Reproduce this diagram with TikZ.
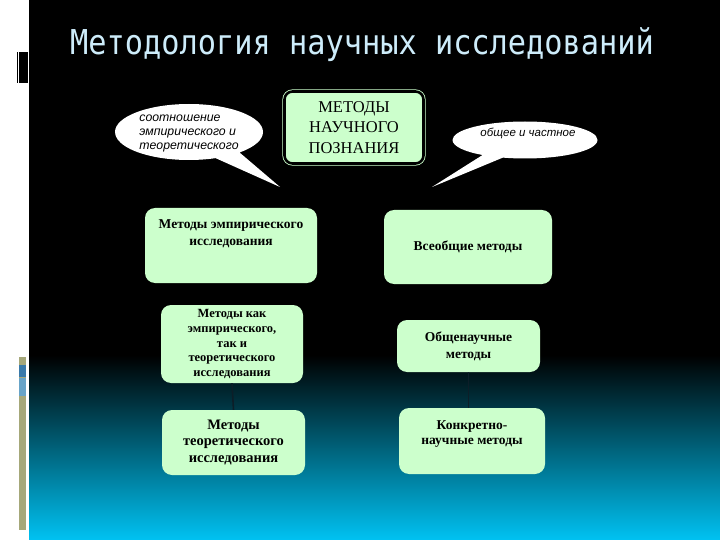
\documentclass[tikz,border=0pt]{standalone}
\usepackage{fontspec}
\setmainfont{Liberation Serif}
\newfontfamily\arialf{Liberation Sans}
\newfontfamily\monof{DejaVu Sans Mono}
\usetikzlibrary{shapes.callouts}
\definecolor{boxgreen}{RGB}{204,255,204}
\definecolor{titleblue}{RGB}{205,236,250}
\definecolor{cyanb}{RGB}{0,194,242}
\definecolor{tealmid}{RGB}{0,88,112}
\definecolor{khaki}{RGB}{166,168,122}
\definecolor{stripblue}{RGB}{58,122,170}
\definecolor{stripltblue}{RGB}{104,164,200}
\definecolor{linkc}{RGB}{12,30,40}
\tikzset{
  gbox/.style={fill=boxgreen, rounded corners=10pt, inner sep=0pt},
  gtext/.style={align=center, inner sep=0pt, font=\bfseries\fontsize{13.5}{17}\selectfont},
  bubble/.style={ellipse callout, fill=white, inner sep=0pt},
  btext/.style={align=left, inner sep=0pt, font=\arialf\itshape\fontsize{11.5}{14}\selectfont},
  link/.style={draw=linkc, line width=1.6pt}
}
\begin{document}
\begin{tikzpicture}[x=1pt,y=-1pt]
\useasboundingbox (0,0) rectangle (720,540);
% background
\fill[white] (0,0) rectangle (720,540);
\fill[black] (29,0) rectangle (720,356);
\shade[top color=black, middle color=tealmid, bottom color=cyanb] (29,355) rectangle (720,540);
% left decorations
\fill[black] (17,52) rectangle (28,83);
\draw[white, line width=0.8pt] (18.8,52) -- (18.8,83);
\fill[khaki] (19,357) rectangle (26,530);
\fill[stripblue] (19,365) rectangle (26,377);
\fill[stripltblue] (19,378) rectangle (26,396);
% title
\node[anchor=base west, inner sep=0pt, text=titleblue, font=\monof\fontsize{30.3}{30}\selectfont]
  (title) at (70,55) {\scalebox{1}[1.13]{Методология научных исследований}};
% top box
\node[draw=boxgreen, double=black, double distance=2.6pt, line width=0.8pt, fill=boxgreen,
  rounded corners=8pt, minimum width=139pt, minimum height=72pt, align=center,
  font=\fontsize{16.5}{20.5}\selectfont] (top) at (354,127.5) {МЕТОДЫ\\НАУЧНОГО\\ПОЗНАНИЯ};
% callouts
\coordinate (tipL) at (280,187);
\coordinate (tipR) at (432,187);
\node[bubble, minimum width=148pt, minimum height=56pt, callout absolute pointer={(tipL)},
  callout pointer arc=22] (c1) at (189,132) {};
\node[btext, font=\arialf\itshape\fontsize{12.3}{14}\selectfont] (c1t) at (189,133.5)
  {соотношение\\эмпирического и\\теоретического};
\node[bubble, minimum width=145pt, minimum height=37pt, callout absolute pointer={(tipR)},
  callout pointer arc=18] (c2) at (525,140) {};
\node[btext] (c2t) at (528,133) {общее и частное};
% boxes
\node[gbox, minimum width=172pt, minimum height=75pt] (b1) at (231,245.5) {};
\node[gtext, anchor=north] (b1t) at (231,219) {Методы эмпирического\\исследования};
\node[gbox, gtext, minimum width=168pt, minimum height=74pt] (b2) at (468,247) {Всеобщие методы};
\node[gbox, gtext, minimum width=142pt, minimum height=78pt, font=\bfseries\fontsize{12.5}{14.6}\selectfont]
  (b3) at (232,344) {Методы как\\эмпирического,\\так и\\теоретического\\исследования};
\node[gbox, gtext, minimum width=143pt, minimum height=52pt] (b4) at (468.5,346) {Общенаучные\\методы};
\node[gbox, gtext, minimum width=143pt, minimum height=65pt, font=\bfseries\fontsize{14.5}{16.5}\selectfont]
  (b5) at (233.5,442.5) {Методы\\теоретического\\исследования};
\node[gbox, minimum width=146pt, minimum height=66pt] (b6) at (472,441) {};
\node[gtext, font=\bfseries\fontsize{13.5}{15.5}\selectfont] (b6t) at (472,434)
  {Конкретно-\\научные методы};
% connectors
\draw[link] (b3.south) -- (b5.north);
\draw[link] (b4.south) -- (b4.south |- b6.north);
\end{tikzpicture}
\end{document}
